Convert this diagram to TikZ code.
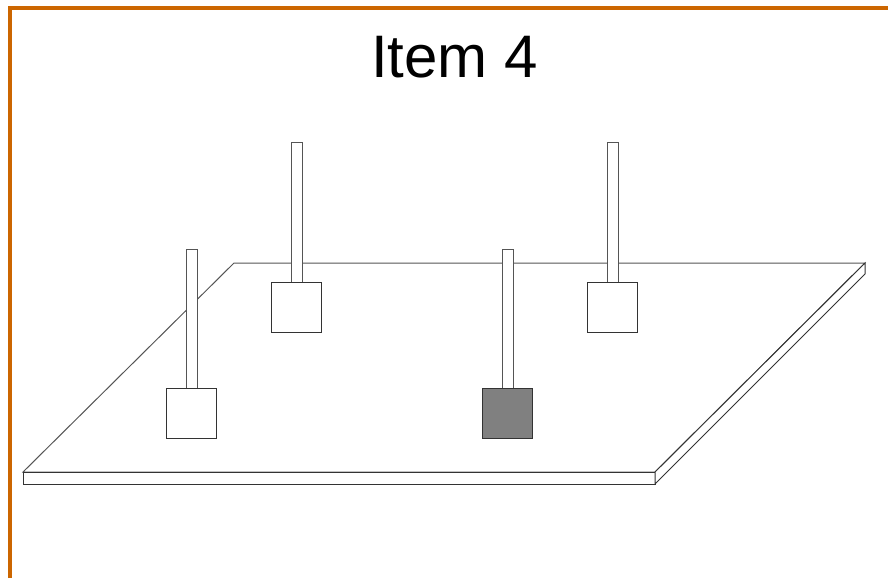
\documentclass[tikz,border=0pt]{standalone}
\usepackage{fontspec}
\setmainfont{Liberation Sans}
\usepackage{xcolor}
\usepackage{tikz}
\definecolor{itmOrange}{HTML}{CC6600}
\definecolor{itmEdge}{HTML}{555555}
\definecolor{itmDark}{HTML}{333333}
\definecolor{itmGray}{HTML}{808080}
\tikzset{
  frameline/.style={draw=itmOrange,line width=4pt},
  platefill/.style={draw=itmEdge,fill=white,line width=1pt,line join=miter},
  platefront/.style={draw=itmDark,fill=white,line width=1pt},
  stick/.style={draw=itmEdge,fill=white,line width=1pt},
  weightbox/.style={draw=itmDark,fill=white,line width=1pt},
  loadbox/.style={weightbox,fill=itmGray},
  titletext/.style={font=\fontsize{60}{72}\selectfont,anchor=base}
}

\begin{document}
\begin{tikzpicture}[x=1pt,y=-1pt]
  \useasboundingbox (0,0) rectangle (888,578);
  % orange frame, only top and left edges visible
  \draw[frameline] (9.5,578) -- (9.5,8) -- (888,8);
  \node[titletext] (title) at (454.5,77.5) {Item 4};

  % board: top face, front edge and right edge
  \draw[platefill] (234,263) -- (865,263) -- (655,472) -- (23,472) -- cycle;
  \draw[platefront] (23,472) rectangle (655,484);
  \draw[platefront] (655,472) -- (865,263) -- (865,274) -- (655,484) -- cycle;

  % back posts
  \draw[stick] (291,142.5) rectangle (302,282);
  \draw[weightbox] (271.5,282) rectangle (321.5,332);
  \draw[stick] (607,142.5) rectangle (618,282);
  \draw[weightbox] (587.5,282) rectangle (637.5,332);

  % front posts, the right one carries the dark weight
  \draw[stick] (186,249) rectangle (197,388);
  \draw[weightbox] (166.5,388) rectangle (216.5,438);
  \draw[stick] (502,249) rectangle (513,388);
  \draw[loadbox] (482.5,388) rectangle (532.5,438);
\end{tikzpicture}
\end{document}
